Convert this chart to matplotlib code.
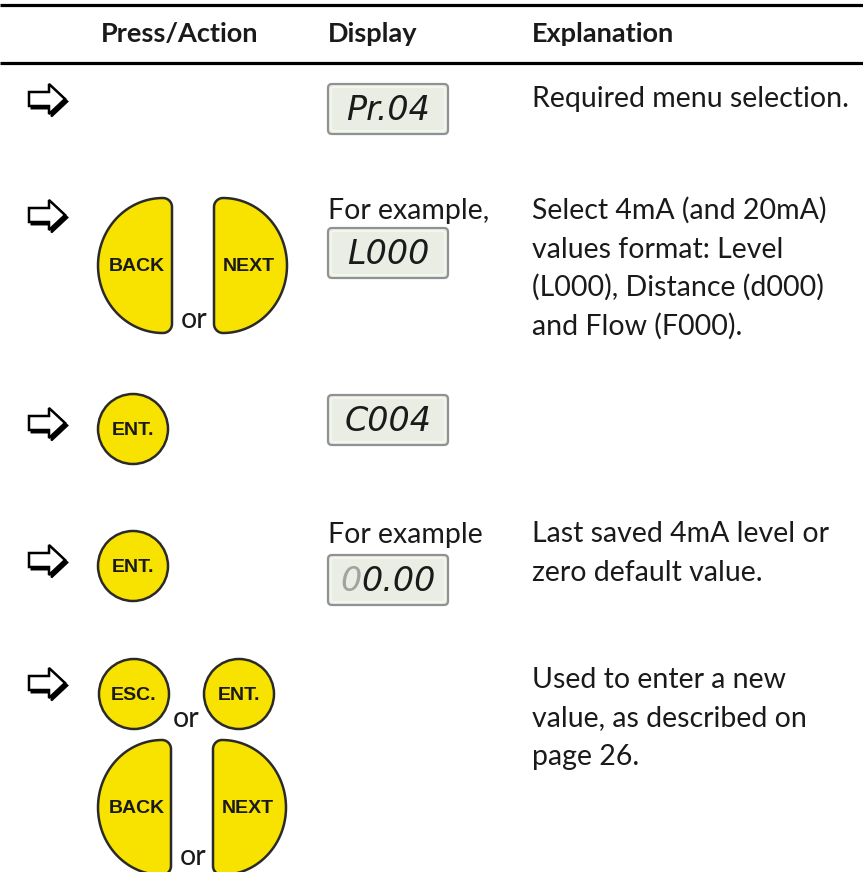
import matplotlib
matplotlib.use("Agg")
import matplotlib.pyplot as plt
from matplotlib.patches import Circle, Polygon, FancyBboxPatch
import numpy as np

# ---------------- content ----------------
headers = ["Press/Action", "Display", "Explanation"]
display_captions = ["", "For example,", "", "For example", ""]
display_codes = ["Pr.04", "L000", "C004", "00.00", ""]
dimmed_leading_digit = [False, False, False, True, False]
explanations = [
    ["Required menu selection."],
    ["Select 4mA (and 20mA)", "values format: Level", "(L000), Distance (d000)", "and Flow (F000)."],
    [],
    ["Last saved 4mA level or", "zero default value."],
    ["Used to enter a new", "value, as described on", "page 26."],
]
round_labels = ["ENT.", "ENT.", "ESC.", "ENT."]
half_labels = ["BACK", "NEXT"]
or_word = "or"

# ---------------- layout (pixels, y downwards) ----------------
W, H = 863, 872
YELLOW = "#F8E200"
EDGE = "#2a2a2a"
TXT = "#1a1a1a"
BODY_FONT = "Lato"
BODY_SIZE = 20.5
LINE_GAP = 38.5
LCD_FONT = dict(fontfamily="DejaVu Sans", fontstyle="oblique", fontsize=24)

fig = plt.figure(figsize=(W / 100, H / 100), dpi=100)
ax = fig.add_axes([0, 0, 1, 1])
ax.set_xlim(0, W)
ax.set_ylim(H, 0)
ax.axis("off")
renderer = fig.canvas.get_renderer()

# rules
for yy in (5, 63):
    ax.plot([0, W], [yy, yy], color="black", lw=2.3, solid_capstyle="butt")

hx = [180, 328, 532]
ha = ["center", "left", "left"]
for t, x, a in zip(headers, hx, ha):
    ax.text(x, 42, t, ha=a, va="baseline", fontfamily=BODY_FONT, fontweight="bold",
            fontsize=19.5, color=TXT)


def arrow(cx0, cy):
    pts = np.array([(0, -7), (20, -7), (20, -15), (36, 0), (20, 15), (20, 7), (0, 7)], float)
    shadow = pts + np.array([cx0 + 2.5, cy + 2.5])
    ax.add_patch(Polygon(shadow, closed=True, fc="black", ec="black", lw=1.4, joinstyle="miter"))
    ax.add_patch(Polygon(pts + np.array([cx0, cy]), closed=True, fc="white", ec="black",
                         lw=1.8, joinstyle="miter"))


def round_button(cx, cy, label, r=35):
    ax.add_patch(Circle((cx, cy), r, fc=YELLOW, ec=EDGE, lw=1.8))
    ax.text(cx, cy + 1, label, ha="center", va="center", fontfamily="Liberation Sans",
            fontweight="bold", fontsize=14, color=TXT)


def half_button(x0, y0, w, h, label, curved_left=True):
    rc = 9
    ym = y0 + h / 2
    t = np.linspace(0, np.pi, 80)
    rx = w - rc
    pts = list(zip(-rx * np.sin(t), -(h / 2) * np.cos(t)))
    a = np.linspace(np.pi / 2, 0, 12)
    pts += list(zip(rc * np.cos(a), (h / 2 - rc) + rc * np.sin(a)))
    a = np.linspace(0, -np.pi / 2, 12)
    pts += list(zip(rc * np.cos(a), -(h / 2 - rc) + rc * np.sin(a)))
    pts = np.array(pts)
    if curved_left:
        pts[:, 0] += x0 + w - rc
    else:
        pts[:, 0] = -pts[:, 0] + x0 + rc
    pts[:, 1] += ym
    ax.add_patch(Polygon(pts, closed=True, fc=YELLOW, ec=EDGE, lw=1.8))
    cx = x0 + w / 2 + (2 if curved_left else -2)
    ax.text(cx, ym + 1, label, ha="center", va="center", fontfamily="Liberation Sans",
            fontweight="bold", fontsize=14, color=TXT)


def text_width(s, **kw):
    t = ax.text(0, 0, s, **kw)
    bb = t.get_window_extent(renderer=renderer)
    t.remove()
    return bb.width


def lcd(y0, code, dim_first, h=50):
    ax.add_patch(FancyBboxPatch((328, y0), 120, h, boxstyle="round,pad=0,rounding_size=4",
                                fc="#e9ede3", ec="#8f9290", lw=1.6))
    ax.add_patch(FancyBboxPatch((331, y0 + 3), 114, h - 6, boxstyle="round,pad=0,rounding_size=3",
                                fc="none", ec="#f8faf4", lw=1.0))
    cy = y0 + h / 2 + 1
    total = text_width(code, **LCD_FONT)
    x_left = 388 - total / 2
    if dim_first:
        w0 = text_width(code[0], **LCD_FONT)
        ax.text(x_left, cy, code[0], ha="left", va="center", color="#a0a3a0", **LCD_FONT)
        ax.text(x_left + w0, cy, code[1:], ha="left", va="center", color=TXT, **LCD_FONT)
    else:
        ax.text(x_left, cy, code, ha="left", va="center", color=TXT, **LCD_FONT)


def body(x, y, s):
    ax.text(x, y, s, ha="left", va="baseline", fontfamily=BODY_FONT, fontsize=BODY_SIZE, color=TXT)


# row anchors
arrow_y = [99, 215, 423, 560, 683]
lcd_top = [84, 228, 395, 555, None]
caption_base = [None, 219, None, 543, None]
expl_base = [107, 219, None, 542, 688]

for i in range(5):
    arrow(29, arrow_y[i])
    if display_codes[i]:
        lcd(lcd_top[i], display_codes[i], dimmed_leading_digit[i])
    if display_captions[i]:
        body(328, caption_base[i], display_captions[i])
    for k, line in enumerate(explanations[i]):
        body(532, expl_base[i] + k * LINE_GAP, line)

# row 2 press/action
half_button(98, 198, 74, 135, half_labels[0], True)
half_button(214, 198, 73, 135, half_labels[1], False)
body(181, 328, or_word)
# rows 3, 4
round_button(133, 429, round_labels[0])
round_button(133, 566, round_labels[1])
# row 5
round_button(134, 694, round_labels[2])
body(173, 727, or_word)
round_button(239, 694, round_labels[3])
half_button(98, 740, 73, 135, half_labels[0], True)
half_button(213, 740, 73, 135, half_labels[1], False)
body(180, 865, or_word)

fig.savefig("out.png", dpi=100, facecolor="white")
